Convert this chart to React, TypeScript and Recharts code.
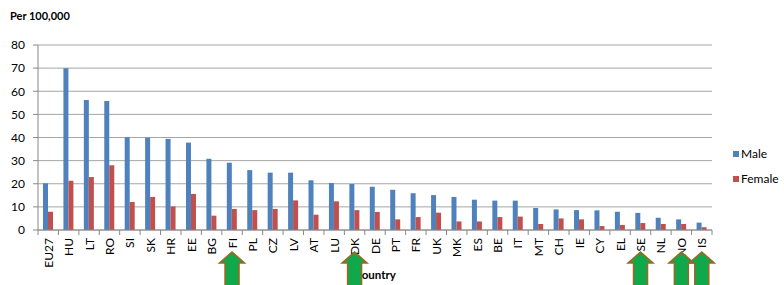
import { BarChart, Bar, XAxis, YAxis, CartesianGrid } from 'recharts';

const countries = [
  'EU27', 'HU', 'LT', 'RO', 'SI', 'SK', 'HR', 'EE', 'BG', 'FI', 'PL',
  'CZ', 'LV', 'AT', 'LU', 'DK', 'DE', 'PT', 'FR', 'UK', 'MK', 'ES',
  'BE', 'IT', 'MT', 'CH', 'IE', 'CY', 'EL', 'SE', 'NL', 'NO', 'IS',
];
const male = [
  20.2, 69.9, 56.2, 55.8, 40.1, 39.9, 39.4, 37.8, 30.8, 29.1, 25.9,
  24.8, 24.8, 21.5, 20.3, 19.9, 18.7, 17.4, 15.9, 15.1, 14.3, 13.1,
  12.7, 12.7, 9.5, 8.9, 8.6, 8.5, 7.9, 7.4, 5.3, 4.6, 3.2,
];
const female = [
  7.9, 21.3, 22.9, 28.0, 12.1, 14.3, 10.2, 15.6, 6.2, 9.1, 8.6,
  9.1, 12.8, 6.6, 12.4, 8.6, 7.8, 4.6, 5.6, 7.5, 3.7, 3.7,
  5.6, 5.8, 2.6, 5.0, 4.6, 1.7, 2.2, 3.0, 2.6, 2.6, 1.2,
];
const yTicks = [0, 10, 20, 30, 40, 50, 60, 70, 80];
const highlighted = ['FI', 'DK', 'SE', 'NO', 'IS'];

const data = countries.map((c, i) => ({ country: c, male: male[i], female: female[i] }));

const W = 784;
const H = 285;
const LEFT = 38;
const RIGHT = 72;
const TOP = 45;
const XAXIS_H = 55;
const halfBand = (W - LEFT - RIGHT) / countries.length / 2;

const font = 'Lato, "Open Sans", sans-serif';
const maleColor = '#4F81BD';
const femaleColor = '#C0504D';

function CountryTick(props: any) {
  const { x, y, payload, index } = props;
  const last = index === countries.length - 1;
  const hl = highlighted.includes(payload.value);
  return (
    <g transform={`translate(${x},${y})`}>
      <line x1={-halfBand} y1={0} x2={-halfBand} y2={5} stroke="#888" />
      {last && <line x1={halfBand} y1={0} x2={halfBand} y2={5} stroke="#888" />}
      <text
        transform="rotate(-90)"
        x={-8}
        y={0}
        dy={4.5}
        textAnchor="end"
        fill="#000"
        fontSize={12}
        fontFamily={font}
      >
        {payload.value}
      </text>
      {hl && (
        <path
          d="M0,22 L12.5,33 L7,33 L7,60 L-7,60 L-7,33 L-12.5,33 Z"
          fill="#0FA84A"
          stroke="#A5641F"
          strokeWidth={1.5}
        />
      )}
    </g>
  );
}

export default function App() {
  return (
    <div style={{ position: 'absolute', left: 0, top: 0, width: W, height: H, fontFamily: font, background: '#fff' }}>
      <div style={{ position: 'absolute', left: 10, top: 9, fontSize: 11, fontWeight: 'bold' }}>
        Per 100,000
      </div>
      <div
        style={{
          position: 'absolute',
          left: LEFT,
          width: W - LEFT - RIGHT,
          top: 268,
          textAlign: 'center',
          fontSize: 11.5,
          fontWeight: 'bold',
        }}
      >
        Country
      </div>
      <div style={{ position: 'absolute', left: 733, top: 147, fontSize: 12, lineHeight: '14px' }}>
        <div style={{ display: 'flex', alignItems: 'center' }}>
          <span style={{ width: 6, height: 6, background: maleColor, display: 'inline-block', marginRight: 2 }} />
          Male
        </div>
        <div style={{ display: 'flex', alignItems: 'center', marginTop: 11 }}>
          <span style={{ width: 6, height: 6, background: femaleColor, display: 'inline-block', marginRight: 2 }} />
          Female
        </div>
      </div>
      <div style={{ position: 'absolute', left: 0, top: 0 }}>
        <BarChart
          width={W}
          height={H}
          data={data}
          margin={{ top: TOP, right: RIGHT, bottom: 0, left: 0 }}
          barGap={0}
          barSize={5}
        >
          <CartesianGrid vertical={false} stroke="#a6a6a6" />
          <XAxis
            dataKey="country"
            height={XAXIS_H}
            interval={0}
            tickLine={false}
            tickSize={0}
            tickMargin={0}
            stroke="#888"
            tick={<CountryTick />}
          />
          <YAxis
            width={LEFT}
            domain={[0, 80]}
            ticks={yTicks}
            tickSize={5}
            tickMargin={8}
            stroke="#888"
            tick={{ fill: '#000', fontSize: 12, fontFamily: font }}
          />
          <Bar dataKey="male" fill={maleColor} isAnimationActive={false} />
          <Bar dataKey="female" fill={femaleColor} isAnimationActive={false} />
        </BarChart>
      </div>
    </div>
  );
}
